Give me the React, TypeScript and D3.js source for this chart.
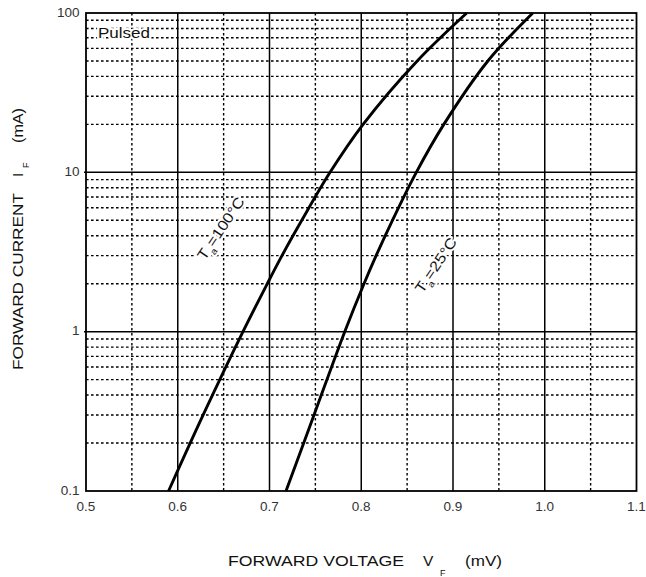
import React from "react";
import * as d3 from "d3";

// Forward current points (mA) and corresponding forward voltage (V) per temperature
const currents = [0.1, 0.3, 1, 2, 3, 5, 10, 20, 50, 100];
const vf100 = [0.59, 0.6277, 0.6711, 0.6976, 0.7136, 0.7352, 0.766, 0.802, 0.861, 0.915];
const vf25 = [0.718, 0.7485, 0.782, 0.803, 0.8162, 0.834, 0.86, 0.89, 0.938, 0.987];

const xTicks = [0.5, 0.6, 0.7, 0.8, 0.9, 1.0, 1.1];
const xTickLabels = ["0.5", "0.6", "0.7", "0.8", "0.9", "1.0", "1.1"];
const xMinor = [0.55, 0.65, 0.75, 0.85, 0.95, 1.05];
const yTicks = [0.1, 1, 10, 100];
const yTickLabels = ["0.1", "1", "10", "100"];

const W = 646;
const H = 577;
const L = 86, R = 636.5, T = 13, B = 491;

export default function App() {
  const x = d3.scaleLinear().domain([0.5, 1.1]).range([L, R]);
  const y = d3.scaleLog().domain([0.1, 100]).range([B, T]);

  const yMinor: number[] = [];
  [0.1, 1, 10].forEach((d) => {
    for (let k = 2; k <= 9; k++) yMinor.push(d * k);
  });

  const line = d3
    .line<[number, number]>()
    .x((d) => x(d[0]))
    .y((d) => y(d[1]))
    .curve(d3.curveCatmullRom.alpha(0.5));

  const c100 = currents.map((c, i) => [vf100[i], c] as [number, number]);
  const c25 = currents.map((c, i) => [vf25[i], c] as [number, number]);

  const font = "Liberation Sans, Arial, sans-serif";
  const dotted = { stroke: "#000", strokeWidth: 1.4, strokeDasharray: "2.6,2.4" };
  const halo = { stroke: "#fff", strokeWidth: 4, paintOrder: "stroke" as const, strokeLinejoin: "round" as const };

  return (
    <svg width={W} height={H} style={{ position: "absolute", left: 0, top: 0, background: "#fff" }} fontFamily={font}>
      <rect x={0} y={0} width={W} height={H} fill="#fff" />
      {/* minor grid */}
      {yMinor.map((v) => (
        <line key={"ym" + v} x1={L} x2={R} y1={y(v)} y2={y(v)} {...dotted} />
      ))}
      {xMinor.map((v) => (
        <line key={"xm" + v} x1={x(v)} x2={x(v)} y1={T} y2={B} {...dotted} />
      ))}
      {/* major grid */}
      {xTicks.slice(1, -1).map((v) => (
        <line key={"xM" + v} x1={x(v)} x2={x(v)} y1={T} y2={B} stroke="#000" strokeWidth={1.5} />
      ))}
      {yTicks.slice(1, -1).map((v) => (
        <line key={"yM" + v} x1={L - 2} x2={R} y1={y(v)} y2={y(v)} stroke="#000" strokeWidth={1.5} />
      ))}
      {/* frame */}
      <rect x={L} y={T} width={R - L} height={B - T} fill="none" stroke="#000" strokeWidth={1.8} />

      {/* curves */}
      <path d={line(c100) || ""} fill="none" stroke="#000" strokeWidth={2.9} />
      <path d={line(c25) || ""} fill="none" stroke="#000" strokeWidth={2.9} />

      {/* labels inside */}
      <text x={98} y={38} fontSize={14} fill="#111" textLength={52} lengthAdjust="spacingAndGlyphs" {...halo}>Pulsed</text>

      <g transform="translate(220.8,228.3) rotate(-56) scale(1.15,1)">
        <text x={0} y={0} textAnchor="middle" dy="0.35em" fontSize={14.5} fill="#111" {...halo}>
          <tspan>T</tspan>
          <tspan fontSize={9} dy={5}>a</tspan>
          <tspan dy={-5}>=100°C</tspan>
        </text>
      </g>
      <g transform="translate(435.8,265) rotate(-56) scale(1.15,1)">
        <text x={0} y={0} textAnchor="middle" dy="0.35em" fontSize={14.5} fill="#111" {...halo}>
          <tspan>T</tspan>
          <tspan fontSize={9} dy={5}>a</tspan>
          <tspan dy={-5}>=25°C</tspan>
        </text>
      </g>

      {/* x tick labels */}
      {xTicks.map((v, i) => (
        <text key={"xt" + v} x={x(v)} y={511} textAnchor="middle" fontSize={13.5} fill="#333">
          {xTickLabels[i]}
        </text>
      ))}
      {/* y tick labels */}
      {yTicks.map((v, i) => (
        <text key={"yt" + v} x={79.5} y={y(v) - 1} dy="0.35em" textAnchor="end" fontSize={13.5} fill="#333">
          {yTickLabels[i]}
        </text>
      ))}

      {/* x axis title */}
      <text x={228} y={566} fontSize={15.5} fill="#111" textLength={176} lengthAdjust="spacingAndGlyphs">FORWARD VOLTAGE</text>
      <text x={423} y={566} fontSize={15.5} fill="#111">V</text>
      <text x={440} y={576} fontSize={9} fill="#111">F</text>
      <text x={465} y={566} fontSize={15.5} fill="#111" textLength={37} lengthAdjust="spacingAndGlyphs">(mV)</text>

      {/* y axis title */}
      <g transform="rotate(-90)">
        <text x={-370} y={23.3} fontSize={15.5} fill="#111" textLength={177} lengthAdjust="spacingAndGlyphs">FORWARD CURRENT</text>
        <text x={-177} y={23.3} fontSize={15.5} fill="#111">I</text>
        <text x={-168} y={29} fontSize={9} fill="#111">F</text>
        <text x={-143} y={23.3} fontSize={15.5} fill="#111" textLength={35} lengthAdjust="spacingAndGlyphs">(mA)</text>
      </g>
    </svg>
  );
}
